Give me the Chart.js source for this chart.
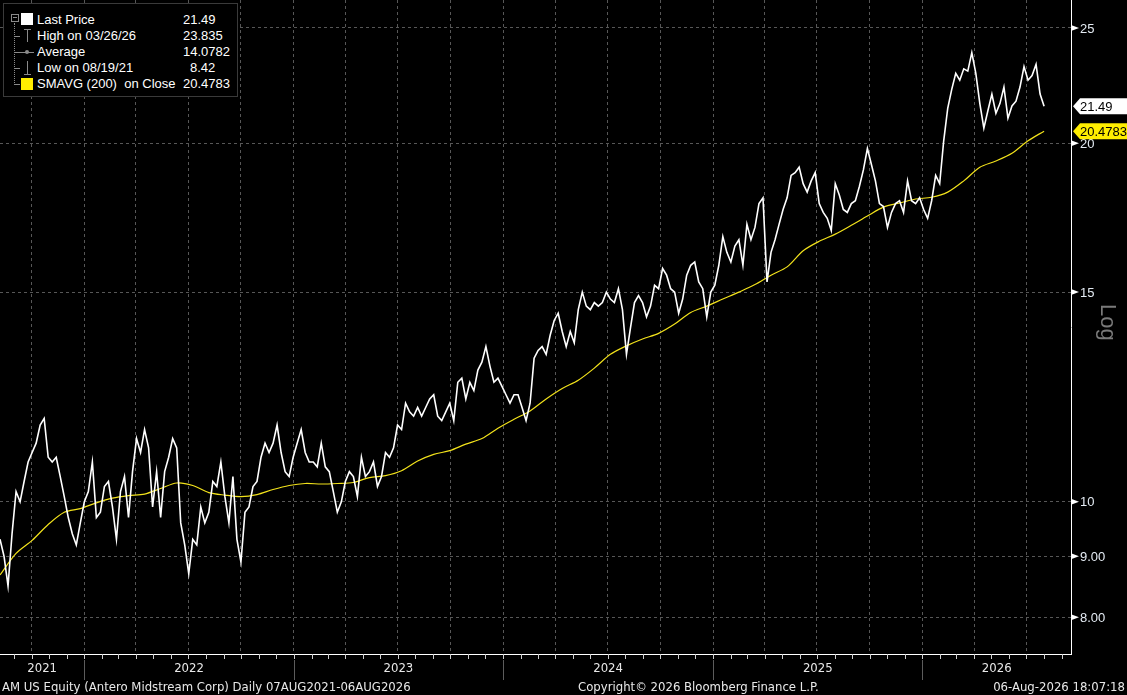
<!DOCTYPE html>
<html>
<head>
<meta charset="utf-8">
<title>AM US Equity</title>
<script src="https://cdn.jsdelivr.net/npm/chart.js@4.4.1/dist/chart.umd.min.js"></script>
<style>
html, body { margin: 0; padding: 0; background: #000; overflow: hidden; }
#wrap { position: relative; width: 1127px; height: 695px; }
#chart { position: absolute; left: 0; top: 0; }
.foot { position: absolute; top: 679px; font: 13px "Liberation Sans Narrow", "DejaVu Sans Condensed", sans-serif; color: #e8e8e8; white-space: nowrap; line-height: 15px; }
#legend { position: absolute; left: 3px; top: 3px; width: 233px; height: 92px; background: #000; border: 1px solid #3a3a3a; font: 13px "Liberation Sans", Arial, sans-serif; color: #fff; }
#legend .row { position: absolute; left: 0; height: 16px; line-height: 16px; white-space: nowrap; }
#legend .nm { position: absolute; left: 33px; }
#legend .vl { position: absolute; }
#legend .g { position: absolute; background: #8a8a8a; }
</style>
</head>
<body>
<div id="wrap">
  <canvas id="chart" width="1127" height="695"></canvas>

  <div id="legend">
    <div class="g" style="left:7px;top:10px;width:6px;height:6px;background:none;border:1px solid #8a8a8a"></div>
    <div class="g" style="left:9px;top:13px;width:4px;height:1px"></div>
    <div class="g" style="left:10px;top:19px;width:1px;height:62px;background:none;border-left:1px dotted #8a8a8a"></div>
    <div class="g" style="left:11px;top:32px;width:5px;height:1px"></div>
    <div class="g" style="left:11px;top:48px;width:5px;height:1px"></div>
    <div class="g" style="left:11px;top:64px;width:5px;height:1px"></div>
    <div class="g" style="left:11px;top:80px;width:5px;height:1px"></div>
    <div class="g" style="left:17px;top:9px;width:12px;height:12px;background:#fff"></div>
    <div class="g" style="left:20px;top:25px;width:7px;height:1px"></div>
    <div class="g" style="left:23px;top:25px;width:1px;height:13px"></div>
    <div class="g" style="left:16px;top:48px;width:14px;height:1px"></div>
    <div class="g" style="left:21px;top:46px;width:4px;height:4px;border-radius:3px"></div>
    <div class="g" style="left:23px;top:57px;width:1px;height:13px"></div>
    <div class="g" style="left:20px;top:70px;width:7px;height:1px"></div>
    <div class="g" style="left:17px;top:74px;width:12px;height:12px;background:#ffee00"></div>
    <div class="row" style="top:8px"><span class="nm">Last Price</span><span class="vl" style="left:179px">21.49</span></div>
    <div class="row" style="top:24px"><span class="nm">High on 03/26/26</span><span class="vl" style="left:179px">23.835</span></div>
    <div class="row" style="top:40px"><span class="nm">Average</span><span class="vl" style="left:179px">14.0782</span></div>
    <div class="row" style="top:56px"><span class="nm">Low on 08/19/21</span><span class="vl" style="left:186px">8.42</span></div>
    <div class="row" style="top:72px"><span class="nm">SMAVG (200)&nbsp;&nbsp;on Close</span><span class="vl" style="left:179px">20.4783</span></div>
  </div>

  <div class="foot" style="left:2px">AM US Equity (Antero Midstream Corp) Daily 07AUG2021-06AUG2026</div>
  <div class="foot" style="left:578px">Copyright© 2026 Bloomberg Finance L.P.</div>
  <div class="foot" style="right:2px">06-Aug-2026 18:07:18</div>
</div>

<script>
// weekly closes, first week starts 07AUG2021
const START_DATE = Date.UTC(2021, 7, 7);
const price = [
  9.3, 9.0, 8.5, 9.4, 10.2, 10.0, 10.4, 10.8, 11.0, 11.2,
  11.6, 11.75, 10.9, 10.8, 10.9, 10.5, 10.1, 9.7, 9.4, 9.2,
  9.6, 10.0, 10.2, 10.8, 9.7, 9.8, 10.3, 10.4, 9.9, 9.3,
  10.2, 10.5, 9.7, 10.6, 11.3, 11.0, 11.5, 11.1, 9.9, 10.6,
  9.7, 10.6, 10.9, 11.3, 11.1, 9.6, 9.2, 8.7, 9.3, 9.2,
  9.9, 9.6, 9.8, 10.4, 10.3, 10.8, 10.1, 9.6, 10.5, 9.3,
  8.9, 9.8, 9.9, 10.3, 10.4, 10.9, 11.2, 11.0, 11.2, 11.6,
  11.0, 10.6, 10.5, 10.9, 11.2, 11.5, 11.0, 10.8, 10.8, 10.7,
  11.2, 10.7, 10.6, 10.2, 9.8, 10.0, 10.4, 10.6, 10.5, 10.1,
  10.9, 10.5, 10.6, 10.8, 10.3, 10.5, 11.0, 10.9, 11.1, 11.6,
  11.5, 12.1, 11.9, 11.8, 12.0, 11.8, 12.0, 12.2, 12.3, 11.8,
  11.7, 11.9, 12.1, 11.7, 12.6, 12.7, 12.2, 12.6, 12.4, 12.9,
  13.1, 13.5, 13.0, 12.6, 12.7, 12.5, 12.3, 12.1, 12.3, 12.3,
  12.0, 11.7, 12.1, 13.2, 13.4, 13.5, 13.3, 13.8, 14.2, 14.4,
  13.9, 13.5, 13.9, 13.6, 14.5, 15.0, 14.6, 14.5, 14.7, 14.6,
  14.7, 15.0, 14.8, 14.7, 15.1, 14.5, 13.3, 14.0, 14.7, 14.9,
  14.7, 14.3, 14.6, 15.2, 15.1, 15.7, 15.5, 15.1, 15.0, 14.4,
  14.8, 15.5, 15.8, 15.9, 15.3, 15.1, 14.3, 15.0, 15.2, 15.8,
  16.7, 16.2, 15.9, 16.4, 16.6, 15.8, 17.1, 16.6, 17.0, 17.8,
  18.0, 15.3, 16.2, 16.6, 17.1, 17.6, 18.0, 18.8, 18.9, 19.1,
  18.5, 18.2, 18.6, 18.9, 17.8, 17.5, 17.3, 16.9, 18.5, 18.1,
  17.6, 17.5, 17.8, 17.9, 18.4, 19.0, 19.8, 19.2, 18.6, 17.8,
  17.7, 17.0, 17.5, 17.8, 17.9, 17.5, 18.6, 17.9, 17.8, 18.0,
  17.6, 17.3, 17.9, 18.8, 18.5, 20.1, 21.4, 22.2, 22.9, 22.6,
  23.1, 23.0, 23.835, 22.9, 21.6, 20.6, 21.3, 22.0, 21.2, 21.6,
  22.3, 21.0, 21.5, 21.7, 22.3, 23.2, 22.6, 22.8, 23.3, 22.0,
  21.49
];
// 200-day moving average, read every 4 weeks
const SMA_STEP = 4;
const sma = [
  8.68, 9.05, 9.28, 9.57, 9.8, 9.87, 9.98, 10.07, 10.12, 10.15,
  10.26, 10.37, 10.32, 10.18, 10.13, 10.1, 10.14, 10.24, 10.32, 10.36,
  10.35, 10.36, 10.38, 10.48, 10.52, 10.62, 10.82, 10.96, 11.04, 11.18,
  11.3, 11.53, 11.73, 11.92, 12.2, 12.45, 12.65, 12.95, 13.3, 13.52,
  13.7, 13.85, 14.1, 14.42, 14.6, 14.8, 15.0, 15.22, 15.5, 15.75,
  16.25, 16.55, 16.78, 17.07, 17.38, 17.68, 17.82, 17.96, 18.02, 18.2,
  18.6, 19.1, 19.33, 19.62, 20.1, 20.4783
];
const yTicks = [8, 9, 10, 15, 20, 25];
const years = [2021, 2022, 2023, 2024, 2025, 2026];
const lastPrice = '21.49';
const lastSma = '20.4783';

const X_MAX = 266.7;
const weekOf = (yr, m) => (Date.UTC(yr, m, 1) - START_DATE) / 604800000;
const yLabel = v => (v >= 10 ? String(v) : v.toFixed(2));

const quarterWeeks = [];
years.forEach(yr => [0, 3, 6, 9].forEach(m => {
  const w = weekOf(yr, m);
  if (w > 0 && w < X_MAX) quarterWeeks.push(w);
}));

const deco = {
  id: 'deco',
  afterDraw(chart) {
    const { ctx, chartArea: a, scales: { x, y } } = chart;
    ctx.save();

    // monthly ticks under the axis
    ctx.strokeStyle = '#cfcfcf';
    ctx.lineWidth = 1;
    years.concat([2027]).forEach(yr => {
      for (let m = 0; m < 12; m++) {
        const w = weekOf(yr, m);
        if (w <= 0 || w >= X_MAX) continue;
        const px = Math.round(x.getPixelForValue(w)) + 0.5;
        ctx.beginPath(); ctx.moveTo(px, a.bottom); ctx.lineTo(px, a.bottom + 5); ctx.stroke();
      }
    });

    // year separators + labels
    ctx.font = '13px "Liberation Sans Narrow", "DejaVu Sans Condensed", sans-serif';
    ctx.textAlign = 'center';
    ctx.textBaseline = 'middle';
    years.forEach(yr => {
      const w0 = Math.max(0, weekOf(yr, 0));
      const w1 = Math.min(X_MAX, weekOf(yr + 1, 0));
      if (yr > years[0]) {
        const px = Math.round(x.getPixelForValue(w0)) + 0.5;
        ctx.strokeStyle = '#5c5c5c';
        ctx.beginPath(); ctx.moveTo(px, a.bottom + 6); ctx.lineTo(px, a.bottom + 26); ctx.stroke();
      }
      ctx.fillStyle = '#e8e8e8';
      ctx.fillText(String(yr), (x.getPixelForValue(w0) + x.getPixelForValue(w1)) / 2, a.bottom + 15);
    });

    // price axis: arrows and labels
    ctx.font = '13px "Liberation Sans", Arial, sans-serif';
    ctx.textAlign = 'left';
    yTicks.forEach(v => {
      const py = y.getPixelForValue(v);
      ctx.fillStyle = '#ffffff';
      ctx.beginPath(); ctx.moveTo(a.right, py - 3); ctx.lineTo(a.right + 8, py); ctx.lineTo(a.right, py + 3); ctx.closePath(); ctx.fill();
      ctx.fillStyle = '#e4ebf3';
      ctx.fillText(yLabel(v), a.right + 9, py + 1);
    });

    // last value tags
    const tag = (val, fill, text) => {
      const py = y.getPixelForValue(val);
      const x0 = a.right + 2;
      ctx.fillStyle = fill;
      ctx.beginPath();
      ctx.moveTo(x0, py); ctx.lineTo(x0 + 7, py - 8); ctx.lineTo(chart.width, py - 8);
      ctx.lineTo(chart.width, py + 8); ctx.lineTo(x0 + 7, py + 8); ctx.closePath(); ctx.fill();
      ctx.fillStyle = '#000';
      ctx.fillText(text, x0 + 7, py + 1);
    };
    tag(price[price.length - 1], '#ffffff', lastPrice);
    tag(sma[sma.length - 1], '#ffee00', lastSma);

    // "Log" marker
    ctx.translate(a.right + 36, y.getPixelForValue(14.15));
    ctx.rotate(Math.PI / 2);
    ctx.fillStyle = '#7a7a7a';
    ctx.font = '22px "Liberation Sans", Arial, sans-serif';
    ctx.textAlign = 'center';
    ctx.fillText('Log', 0, 0);
    ctx.restore();
  }
};

new Chart(document.getElementById('chart'), {
  type: 'line',
  data: {
    datasets: [
      {
        label: 'Last Price',
        data: price.map((v, i) => ({ x: i, y: v })),
        borderColor: '#ffffff',
        borderWidth: 1.6,
        pointRadius: 0,
        tension: 0
      },
      {
        label: 'SMAVG (200) on Close',
        data: sma.map((v, i) => ({ x: i * SMA_STEP, y: v })),
        borderColor: '#f2e21b',
        borderWidth: 1.2,
        pointRadius: 0,
        tension: 0.3
      }
    ]
  },
  options: {
    responsive: false,
    animation: false,
    layout: { padding: 0 },
    plugins: { legend: { display: false }, tooltip: { enabled: false } },
    scales: {
      x: {
        type: 'linear',
        min: 0,
        max: X_MAX,
        bounds: 'data',
        afterBuildTicks: s => { s.ticks = quarterWeeks.map(w => ({ value: w })); },
        afterFit: s => { s.height = 41; },
        ticks: { display: false },
        grid: { color: '#575757', drawTicks: false },
        border: { color: '#ffffff', dash: [3, 3] }
      },
      y: {
        type: 'logarithmic',
        position: 'right',
        min: 7.45,
        max: 26.39,
        bounds: 'data',
        afterBuildTicks: s => { s.ticks = yTicks.map(v => ({ value: v })); },
        afterFit: s => { s.width = 56; },
        ticks: { display: false },
        grid: { color: '#575757', drawTicks: false },
        border: { color: '#ffffff', dash: [3, 3] }
      }
    }
  },
  plugins: [deco]
});
</script>
</body>
</html>
